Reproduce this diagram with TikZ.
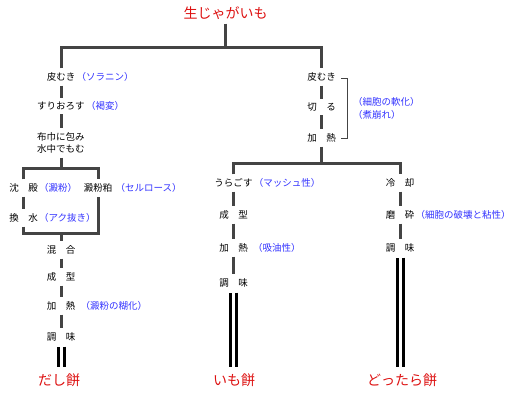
\documentclass[tikz,border=0pt]{standalone}
\usepackage{fontspec}
\setmainfont{Noto Sans CJK JP}
\usetikzlibrary{positioning}
\definecolor{linegray}{HTML}{444444}
\definecolor{noteblue}{HTML}{3333FF}
\definecolor{dishred}{HTML}{DD1111}

\begin{document}
\begin{tikzpicture}[x=1pt,y=-1pt,
  every node/.style={font=\fontsize{9.5}{12}\selectfont},
  stepbox/.style={inner xsep=1pt,inner ysep=4pt},
  note/.style={text=noteblue,inner sep=0pt},
  dish/.style={text=dishred,font=\fontsize{14}{16}\selectfont,inner sep=1pt},
  flow/.style={draw=linegray,line width=3pt},
  final/.style={draw=black,line width=3pt,double=white,double distance=3pt,shorten <=1pt,shorten >=5pt},
  bracket/.style={draw=linegray,line width=1pt}
]
  \useasboundingbox (0,0) rectangle (520,400);

  % raw potato and first split
  \node[dish] (raw) at (225.5,13) {生じゃがいも};
  \coordinate (split) at (225.5,47.5);
  \coordinate (barL) at (61,47.5);
  \coordinate (barR) at (321.5,47.5);

  % dashi mochi line
  \node[stepbox] (peelA) at (61,77) {皮むき};
  \node[stepbox] (grate) at (61,106) {すりおろす};
  \node[stepbox,align=left] (wrap) at (61,143) {布巾に包み\\水中でもむ};
  \coordinate (wrapJ) at (61,168);
  \coordinate (boxTL) at (23.5,168);
  \coordinate (boxTR) at (98,168);
  \node[stepbox] (settle) at (23.5,188) {沈　殿};
  \node[stepbox] (rinse) at (23.5,218) {換　水};
  \node[stepbox] (lees) at (98,188) {澱粉粕};
  \coordinate (boxBL) at (23.5,233);
  \coordinate (boxBR) at (98,233);
  \coordinate (boxBM) at (61,233);
  \node[stepbox] (mix) at (61,250) {混　合};
  \node[stepbox] (shapeA) at (61,277) {成　型};
  \node[stepbox] (heatA) at (61,306) {加　熱};
  \node[stepbox] (seasonA) at (61,337) {調　味};
  \node[dish] (dashi) at (59,380) {だし餅};

  \node[note,right=0pt of peelA] {（ソラニン）};
  \node[note,right=0pt of grate] {（褐変）};
  \node[note,right=0pt of settle] {（澱粉）};
  \node[note,right=0pt of rinse] {（アク抜き）};
  \node[note,right=2pt of lees] {（セルロース）};
  \node[note,right=4pt of heatA] {（澱粉の糊化）};

  % boiled potato line
  \node[stepbox] (peelB) at (321.5,77) {皮むき};
  \node[stepbox] (cut) at (321.5,107) {切　る};
  \node[stepbox] (heatB) at (321.5,138) {加　熱};
  \coordinate (brTop) at (341,78);
  \coordinate (brBot) at (341,138);
  \node[note,align=left,anchor=west,font=\fontsize{9.5}{13}\selectfont] (soften) at (353,108) {（細胞の軟化）\\（煮崩れ）};
  \coordinate (splitB) at (321.5,163.5);
  \coordinate (barM) at (233.5,163.5);
  \coordinate (barRR) at (400,163.5);

  % imo mochi
  \node[stepbox] (strain) at (233.5,183) {うらごす};
  \node[stepbox] (shapeB) at (233.5,215) {成　型};
  \node[stepbox] (heatC) at (233.5,248) {加　熱};
  \node[stepbox] (seasonB) at (233.5,283) {調　味};
  \node[dish] (imo) at (234,380) {いも餅};
  \node[note,right=0pt of strain] {（マッシュ性）};
  \node[note,right=4pt of heatC] {（吸油性）};

  % dottara mochi
  \node[stepbox] (cool) at (400,183) {冷　却};
  \node[stepbox] (grind) at (400,215) {磨　砕};
  \node[stepbox] (seasonC) at (400,248) {調　味};
  \node[dish] (dottara) at (402,380) {どったら餅};
  \node[note,right=0pt of grind] {（細胞の破壊と粘性）};

  % connectors
  \draw[flow,shorten <=3pt] (raw) -- (split);
  \draw[flow] (peelA) -- (barL) -- (barR) -- (peelB);
  \draw[flow] (peelA) -- (grate) -- (wrap) -- (wrapJ);
  \draw[flow] (settle) -- (boxTL) -- (boxTR) -- (lees);
  \draw[flow] (settle) -- (rinse) -- (boxBL) -- (boxBR) -- (lees);
  \draw[flow] (boxBM) -- (mix) -- (shapeA) -- (heatA) -- (seasonA);
  \draw[flow] (peelB) -- (cut) -- (heatB) -- (splitB);
  \draw[flow] (strain) -- (barM) -- (barRR) -- (cool);
  \draw[flow] (strain) -- (shapeB) -- (heatC) -- (seasonB);
  \draw[flow] (cool) -- (grind) -- (seasonC);
  \draw[bracket] (brTop) -- ++(6,0) |- (brBot);

  \draw[final] (seasonA) -- (seasonA |- dashi.north);
  \draw[final] (seasonB) -- (seasonB |- imo.north);
  \draw[final] (seasonC) -- (seasonC |- dottara.north);
\end{tikzpicture}
\end{document}
